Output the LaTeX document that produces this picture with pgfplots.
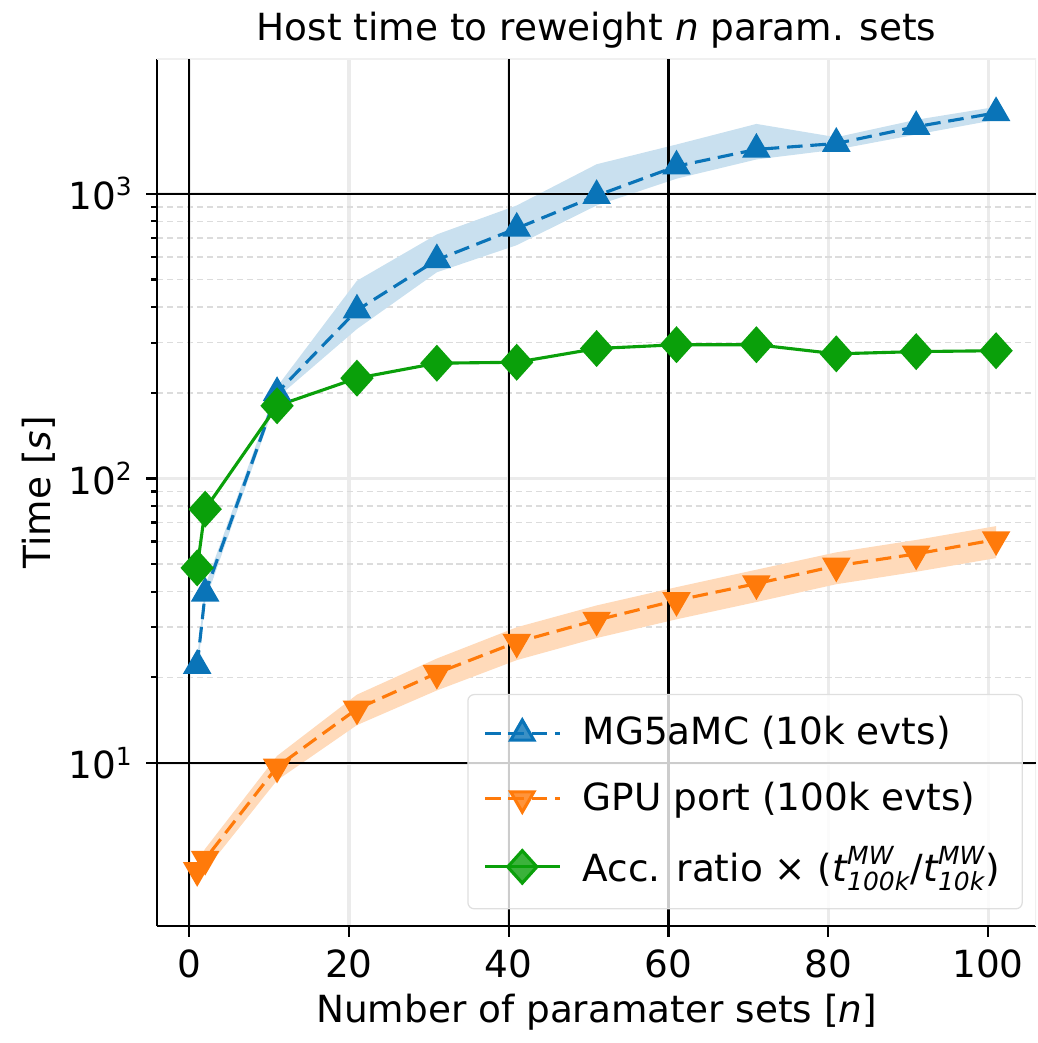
\documentclass[border=0pt]{standalone}
\usepackage{fontspec}
\setmainfont{DejaVu Sans}
\usepackage{amsmath}
\usepackage{pgfplots}
\pgfplotsset{compat=1.18}
\usepgfplotslibrary{fillbetween}

\definecolor{mgblue}{HTML}{0A74B8}
\definecolor{gpuorange}{HTML}{FF7A0A}
\definecolor{accgreen}{HTML}{0AA00A}
\definecolor{gridmaj}{HTML}{EBEBEB}
\definecolor{gridmin}{HTML}{DCDCDC}

\begin{document}
\fontsize{12}{14}\selectfont
\begin{tikzpicture}
\begin{axis}[
    scale only axis,
    width=282pt, height=278.3pt,
    ymode=log,
    xmin=-4, xmax=106, ymin=2.68, ymax=2985,
    axis x line*=bottom, axis y line*=left,
    axis line style={black, line width=0.8pt},
    tick align=outside,
    major tick length=3.5pt, minor tick length=2pt,
    every tick/.style={black, line width=0.7pt},
    xtick={0,20,...,100},
    ytick={10,100,1000},
    yticklabels={10\textsuperscript{1},10\textsuperscript{2},10\textsuperscript{3}},
    /pgf/number format/assume math mode=true,
    ticklabel style={font=\fontsize{12}{14}\selectfont},
    grid=both,
    major grid style={gridmaj, line width=1pt},
    minor grid style={gridmin, dash pattern=on 2pt off 1.2pt, line width=0.5pt},
    title={Host time to reweight \textit{n} param. sets},
    title style={yshift=-7pt},
    xlabel={Number of paramater sets [\textit{n}]},
    xlabel style={yshift=3pt},
    ylabel={Time [\textit{s}]},
    ylabel style={yshift=-4pt},
    legend style={at={(rel axis cs:0.985,0.019)}, anchor=south east,
        draw=gray!25, rounded corners=2pt, fill=white, fill opacity=0.8,
        text opacity=1, font=\fontsize{12}{14}\selectfont,
        row sep=6pt, column sep=5pt, inner xsep=5pt, inner ysep=5pt},
    legend cell align=left,
    legend image code/.code={\draw[mark repeat=2,mark phase=2]
        plot coordinates {(0cm,0cm) (0.42cm,0cm) (0.84cm,0cm)};},
]
% light top and right frame
\draw[gray!12, line width=0.8pt] (rel axis cs:0,1) -- (rel axis cs:1,1) -- (rel axis cs:1,0);

% black reference lines
\addplot[black, line width=0.8pt, forget plot] coordinates {(0,2.68) (0,2985)};
\addplot[black, line width=0.8pt, forget plot] coordinates {(40,2.68) (40,2985)};
\addplot[black, line width=0.8pt, forget plot] coordinates {(60,2.68) (60,2985)};
\addplot[black, line width=0.8pt, forget plot] coordinates {(-4,10) (106,10)};
\addplot[black, line width=0.8pt, forget plot] coordinates {(-4,1000) (106,1000)};

% MG5aMC band
\addplot[name path=bu, draw=none, forget plot] coordinates {
    (1,23.5) (2,42) (11,210) (21,495) (31,720) (41,910) (51,1270)
    (61,1490) (71,1760) (81,1580) (91,1820) (101,2020)};
\addplot[name path=bl, draw=none, forget plot] coordinates {
    (1,20.5) (2,37) (11,192) (21,335) (31,530) (41,660) (51,910)
    (61,1130) (71,1320) (81,1430) (91,1615) (101,1820)};
\addplot[mgblue!22, forget plot] fill between[of=bu and bl];

% GPU band
\addplot[name path=ou, draw=none, forget plot] coordinates {
    (1,4.5) (2,5.0) (11,10.6) (21,17.4) (31,23.3) (41,30.0) (51,35.8)
    (61,41.5) (71,47.8) (81,55.0) (91,60.8) (101,68)};
\addplot[name path=ol, draw=none, forget plot] coordinates {
    (1,3.9) (2,4.2) (11,8.7) (21,13.6) (31,18.0) (41,23.0) (51,27.5)
    (61,32.0) (71,36.8) (81,42.5) (91,47.0) (101,52.5)};
\addplot[gpuorange!28, forget plot] fill between[of=ou and ol];

% MG5aMC
\addplot[mgblue, line width=1pt, dash pattern=on 5pt off 2.5pt,
    mark=triangle*, mark size=4.3pt, mark options={solid}] coordinates {
    (1,22) (2,39.5) (11,200) (21,390) (31,586) (41,756) (51,985)
    (61,1250) (71,1432) (81,1502) (91,1721) (101,1925)};
\addlegendentry{MG5aMC (10k evts)}

% GPU port
\addplot[gpuorange, line width=1pt, dash pattern=on 5pt off 2.5pt,
    mark=triangle*, mark size=4.3pt, mark options={solid, rotate=180}] coordinates {
    (1,4.2) (2,4.6) (11,9.7) (21,15.5) (31,20.7) (41,26.6) (51,31.8)
    (61,37.3) (71,42.7) (81,49.3) (91,54.3) (101,61)};
\addlegendentry{GPU port (100k evts)}

% accuracy ratio
\addplot[accgreen, line width=1pt, mark=diamond*, mark size=5.2pt,
    mark options={xscale=1.2}] coordinates {
    (1,48.5) (2,78) (11,180) (21,225) (31,254) (41,256) (51,286)
    (61,295) (71,295) (81,274) (91,279) (101,281)};
\addlegendentry{Acc. ratio × ($\text{\itshape t}^{\text{\itshape MW}}_{\text{\itshape 100k}}$/$\text{\itshape t}^{\text{\itshape MW}}_{\text{\itshape 10k}}$)}
\end{axis}
% white margin left of the y label, as in the reference
\path (current axis.outer west) ++(-3pt,0);
\end{tikzpicture}
\end{document}
